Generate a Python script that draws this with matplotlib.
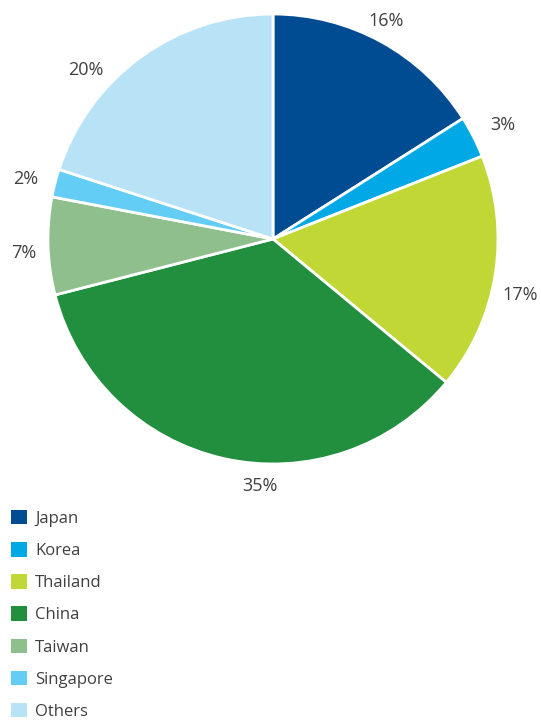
import matplotlib
matplotlib.use("Agg")
import matplotlib.pyplot as plt
import numpy as np

categories = ["Japan", "Korea", "Thailand", "China", "Taiwan", "Singapore", "Others"]
values = [16, 3, 17, 35, 7, 2, 20]
colors = ["#004C93", "#00A9E6", "#C0D736", "#218F3E", "#8FBF8C", "#63CDF5", "#B8E3F7"]
# label angle nudges (degrees) and distances, as in the reference
label_nudge = [1.3, -0.5, -3.8, 9.6, 1.4, 0.7, 11.9]
label_dist = [1.09, 1.14, 1.125, 1.10, 1.11, 1.13, 1.12]

plt.rcParams['font.family'] = ['Open Sans', 'DejaVu Sans']
text_color = "#404040"

W, H = 541, 720
fig = plt.figure(figsize=(W / 100, H / 100), dpi=100)
cx, cy, r = 273, 239, 225
ax = fig.add_axes([(cx - r) / W, 1 - (cy + r) / H, 2 * r / W, 2 * r / H])

wedges, _ = ax.pie(values, colors=colors, startangle=90, counterclock=False,
                   wedgeprops=dict(edgecolor="white", linewidth=2))
ax.set_xlim(-1, 1)
ax.set_ylim(-1, 1)
ax.set_aspect("equal")
ax.axis("off")

for w, v, nudge, d in zip(wedges, values, label_nudge, label_dist):
    ang = np.deg2rad((w.theta1 + w.theta2) / 2 + nudge)
    ax.text(d * np.cos(ang), d * np.sin(ang), f"{v}%", ha="center", va="center",
            fontsize=13, color=text_color, clip_on=False)

handles = [plt.Rectangle((0, 0), 1, 1, facecolor=c, edgecolor="none") for c in colors]
fs = 12
px = fs * 100 / 72
leg = fig.legend(handles, categories, loc="upper left",
                 bbox_to_anchor=(11 / W, 1 - 510 / H), frameon=False,
                 fontsize=fs, handlelength=16 / px, handleheight=16 / px,
                 labelspacing=0.91, handletextpad=8 / px, borderpad=0, borderaxespad=0)
for t in leg.get_texts():
    t.set_color(text_color)

fig.savefig("out.png", dpi=100)
